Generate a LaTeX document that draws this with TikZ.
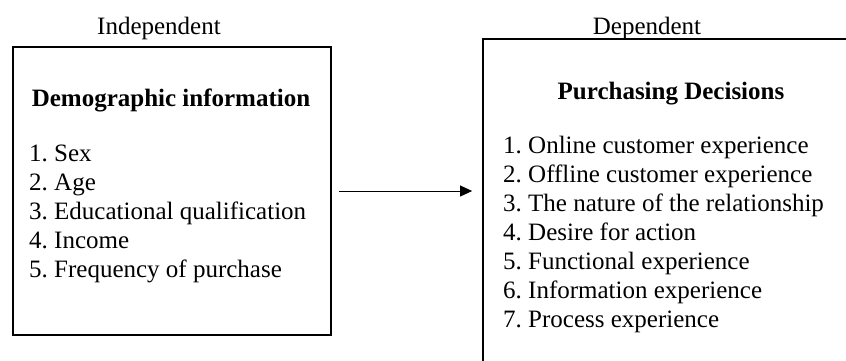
\documentclass[tikz,border=0pt]{standalone}
\usepackage{fontspec}
\setmainfont{Liberation Serif}
\frenchspacing
\usetikzlibrary{arrows.meta,positioning}

\begin{document}
\begin{tikzpicture}[
  x=1pt, y=1pt,
  font=\fontsize{25}{29}\selectfont,
  box/.style={draw=black, line width=1.8pt, inner sep=0pt},
  caption/.style={inner sep=0pt},
  heading/.style={inner sep=0pt, font=\fontsize{25}{29}\selectfont\bfseries},
  items/.style={inner sep=0pt, align=left},
  flow/.style={-{Triangle[length=12pt,width=11pt]}, draw=black, line width=1pt}
]
  \clip (0,0) rectangle (846,-360);

  \node[box, minimum width=318pt, minimum height=288pt] (demo) at (172,-191) {};
  \node[box, minimum width=376pt, minimum height=380pt] (decide) at (671,-229) {};

  \node[caption, anchor=base] (indep) at (159,-34) {Independent};
  \node[caption, anchor=base] (dep) at (647,-34) {Dependent};

  % base of a multi-line node is its last line
  \node[heading, anchor=base] (demohead) at (171,-106) {Demographic information};
  \node[items, anchor=base west] (demolist) at (29,-277)
    {1. Sex\\2. Age\\3. Educational qualification\\4. Income\\5. Frequency of purchase};

  \node[heading, anchor=base] (decidehead) at (671,-99) {Purchasing Decisions};
  \node[items, anchor=base west] (decidelist) at (503,-327)
    {1. Online customer experience\\2. Offline customer experience\\3. The nature of the relationship\\4. Desire for action\\5. Functional experience\\6. Information experience\\7. Process experience};

  \draw[flow, shorten <=7pt, shorten >=10pt] (demo.east) -- (demo.east -| decide.west);
\end{tikzpicture}
\end{document}
